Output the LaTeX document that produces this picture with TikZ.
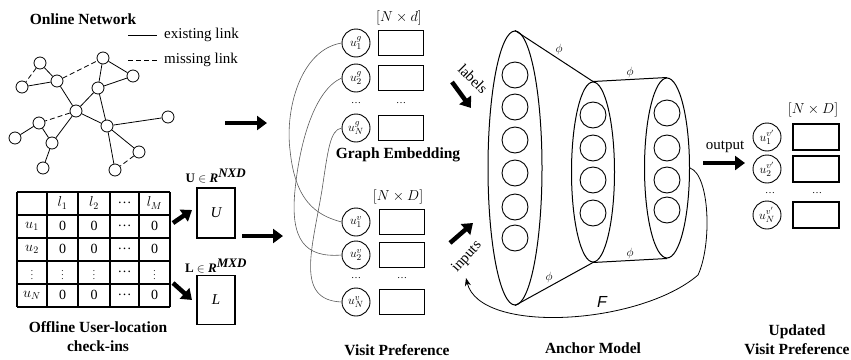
\documentclass[tikz,border=0pt]{standalone}
\usepackage{fontspec}
\setmainfont{Liberation Serif}
\setsansfont{Liberation Sans}
\usetikzlibrary{arrows.meta,shapes.geometric}

\begin{document}
\begin{tikzpicture}[x=1pt,y=-1pt]
  \tikzstyle{vertex}=[circle,draw,line width=0.8pt,minimum size=12pt,inner sep=0pt]
  \tikzstyle{heading}=[font=\fontsize{15.5}{19}\selectfont\bfseries,align=center]
  \tikzstyle{plain}=[font=\fontsize{15}{18}\selectfont,inner sep=1pt]
  \tikzstyle{cell}=[font=\fontsize{14}{14}\selectfont,inner sep=0pt]
  \tikzstyle{mbox}=[draw,line width=1.5pt,inner sep=0pt,font=\fontsize{15}{15}\selectfont\itshape]
  \tikzstyle{unode}=[circle,draw,line width=0.9pt,minimum size=28pt,inner sep=0pt,font=\fontsize{13}{13}\selectfont]
  \tikzstyle{vecbox}=[draw,line width=1.6pt,minimum width=45pt,minimum height=25pt,inner sep=0pt]
  \tikzstyle{neuron}=[circle,draw,line width=0.9pt,minimum size=26pt,inner sep=0pt]
  \tikzstyle{layer}=[ellipse,draw,line width=1pt,inner sep=0pt]
  \tikzstyle{fat}=[line width=4.5pt,-{Triangle[length=10pt,width=14pt]}]
  \tikzstyle{wire}=[gray!70!black,line width=0.6pt]
  \tikzstyle{phi}=[font=\fontsize{12}{12}\selectfont,inner sep=1pt]
  \tikzstyle{miss}=[line width=0.8pt,dash pattern=on 5pt off 3pt]

  \useasboundingbox (0,0) rectangle (851,359);

  % online network
  \node[heading] (net) at (83,19) {Online Network};
  \foreach \name/\x/\y in {A/40/63, B/22/87, C/57/81, D/103/58, E/133/76, F/98/88, G/76/111, H/168/117,
                           I/107/126, J/39/123, K/15/138, L/52/143, M/139/152, N/43/168, O/115/170}
    \node[vertex] (n-\name) at (\x,\y) {};
  \foreach \from/\to in {B/C,A/C,D/E,D/F,F/E,C/G,F/G,G/I,F/I,I/H,J/K,J/L,G/L,L/N,I/M,I/O}
    { \draw[line width=0.8pt] (n-\from) -- (n-\to); }
  \foreach \from/\to in {A/B,C/D,G/J,M/O}
    { \draw[miss] (n-\from) -- (n-\to); }

  \node[plain,anchor=west] (ex) at (163,35) {existing link};
  \node[plain,anchor=west] (mi) at (163,60) {missing link};
  \draw[line width=0.9pt] ([xshift=-35pt]ex.west) -- ([xshift=-6pt]ex.west);
  \draw[miss,line width=0.9pt] ([xshift=-35pt]mi.west) -- ([xshift=-4pt]mi.west);

  % check-in table
  \foreach \x in {17,47,78,110,139,170}
    \draw[line width=1.2pt] (\x,192) -- (\x,307);
  \foreach \y in {192,215,238,261,284,307}
    \draw[line width=1.2pt] (17,\y) -- (170,\y);
  \foreach \r/\y/\a/\b/\c/\d/\e in {0/203/{}/$l_1$/$l_2$/\dots/$l_M$, 1/226/$u_1$/0/0/\dots/0,
                                   2/249/$u_2$/0/0/\dots/0, 3/272/{\small$\vdots$}/{\small$\vdots$}/{\small$\vdots$}/\dots/{\small$\vdots$},
                                   4/295/$u_N$/0/0/\dots/0}
  {
    \node[cell] (c-\r-1) at (32,\y) {\a};
    \node[cell] (c-\r-2) at (62.5,\y) {\b};
    \node[cell] (c-\r-3) at (94,\y) {\c};
    \node[cell] (c-\r-4) at (124.5,\y) {\d};
    \node[cell] (c-\r-5) at (154.5,\y) {\e};
  }
  \node[heading] (off) at (98,337) {Offline User-location\\check-ins};

  \node[mbox,minimum width=38pt,minimum height=50pt] (U) at (216,213) {U};
  \node[mbox,minimum width=38pt,minimum height=49pt] (L) at (216,300) {L};
  \node[font=\fontsize{13}{13}\selectfont] (U-dim) at (216,176) {\textbf{U} $\in$ \textbf{\textit{R}}$^{\textbf{\textit{NXD}}}$};
  \node[font=\fontsize{13}{13}\selectfont] (L-dim) at (216,266) {\textbf{L} $\in$ \textbf{\textit{R}}$^{\textbf{\textit{MXD}}}$};
  \coordinate (a1) at (173,223); \coordinate (a2) at (192,210);
  \coordinate (a3) at (173,283); \coordinate (a4) at (192,300);
  \draw[fat] (a1) -- (a2);
  \draw[fat] (a3) -- (a4);
  \coordinate (a5) at (242,236); \coordinate (a6) at (283,236);
  \draw[fat] (a5) -- (a6);
  \coordinate (a7) at (225,123); \coordinate (a8) at (267,123);
  \draw[fat] (a7) -- (a8);

  % graph embedding and visit preference
  \foreach \name/\y/\t in {1/43/1, 2/78/2, N/128/N}
  { \node[unode] (g-\name) at (356,\y) {$u_{\t}^{g}$};
    \node[vecbox] (gb-\name) at (401,\y) {}; }
  \node[inner sep=0pt] (g-dots) at (356,103) {\dots};
  \node[inner sep=0pt] (gb-dots) at (401,103) {\dots};
  \node[plain] (g-dim) at (399,18) {$[N\times d]$};
  \node[heading] (ge) at (398,155) {Graph Embedding};

  \foreach \name/\y/\t in {1/222/1, 2/255/2, N/302/N}
  { \node[unode] (v-\name) at (356,\y) {$u_{\t}^{v}$};
    \node[vecbox] (vb-\name) at (402,\y) {}; }
  \node[inner sep=0pt] (v-dots) at (356,278) {\dots};
  \node[inner sep=0pt] (vb-dots) at (402,278) {\dots};
  \node[plain] (v-dim) at (398,197) {$[N\times D]$};
  \node[heading] (vp) at (397,350) {Visit Preference};

  \draw[wire] (g-1.west) .. controls (300,50) and (285,110) .. (290,150) .. controls (295,200) and (315,215) .. (v-1.west);
  \draw[wire] (g-2.west) .. controls (315,90) and (300,140) .. (295,190) .. controls (290,240) and (305,258) .. (v-2.west);
  \draw[wire] (g-N.west) .. controls (330,130) and (328,150) .. (322,190) .. controls (312,250) and (295,300) .. (v-N.west);

  \coordinate (b1) at (452,82); \coordinate (b2) at (471,108);
  \draw[fat] (b1) -- (b2);
  \node[plain,rotate=-45] (lab) at (473,79) {labels};
  \coordinate (b3) at (450,243); \coordinate (b4) at (473,223);
  \draw[fat] (b3) -- (b4);
  \node[plain,rotate=48] (inp) at (467,257) {inputs};

  % anchor model
  \node[layer,minimum width=54pt,minimum height=274pt] (L1) at (515,168) {};
  \node[layer,minimum width=43pt,minimum height=180pt] (L2) at (593,172) {};
  \node[layer,minimum width=45pt,minimum height=180pt] (L3) at (667,168) {};
  \foreach \i/\y in {1/75,2/107,3/140,4/173,5/207,6/238}
    \node[neuron] (p-\i) at (515,\y) {};
  \foreach \i/\y in {1/115,2/148,3/180,4/213}
    \node[neuron] (q-\i) at (593,\y) {};
  \foreach \i/\y in {1/113,2/148,3/180,4/210}
    \node[neuron] (r-\i) at (667,\y) {};
  \draw[line width=1pt] (L1.north) -- (L2.north) node[phi,midway,above right] {$\phi$};
  \draw[line width=1pt] (L1.south) -- (L2.south) node[phi,midway,above left] {$\phi$};
  \draw[line width=1pt] (L2.north) -- (L3.north) node[phi,midway,above] {$\phi$};
  \draw[line width=1pt] (L2.south) -- (L3.south) node[phi,midway,above] {$\phi$};

  \coordinate (f-end) at (466,278);
  \draw[line width=0.8pt,-{Stealth[length=8pt,width=6pt]}] (L3.east) .. controls (710,175) and (712,245) .. (698,275)
    .. controls (640,325) and (480,335) .. (f-end);
  \node[font=\fontsize{16}{16}\selectfont\sffamily\itshape] (F) at (602,302) {F};
  \node[heading] (am) at (593,348) {Anchor Model};

  % updated visit preference
  \coordinate (o1) at (703,163); \coordinate (o2) at (745,163);
  \draw[fat] (o1) -- (o2);
  \node[plain] (out) at (725,147) {output};
  \foreach \name/\y/\t in {1/137/1, 2/169/2, N/215/N}
  { \node[unode] (w-\name) at (767,\y) {$u_{\t}^{v'}$};
    \node[vecbox,minimum width=46pt,minimum height=26pt] (wb-\name) at (816,\y) {}; }
  \node[inner sep=0pt] (w-dots) at (770,193) {\dots};
  \node[inner sep=0pt] (wb-dots) at (817,193) {\dots};
  \node[plain] (w-dim) at (813,110) {$[N\times D]$};
  \node[heading] (uvp) at (797,340) {Updated\\Visit Preference};
\end{tikzpicture}
\end{document}
